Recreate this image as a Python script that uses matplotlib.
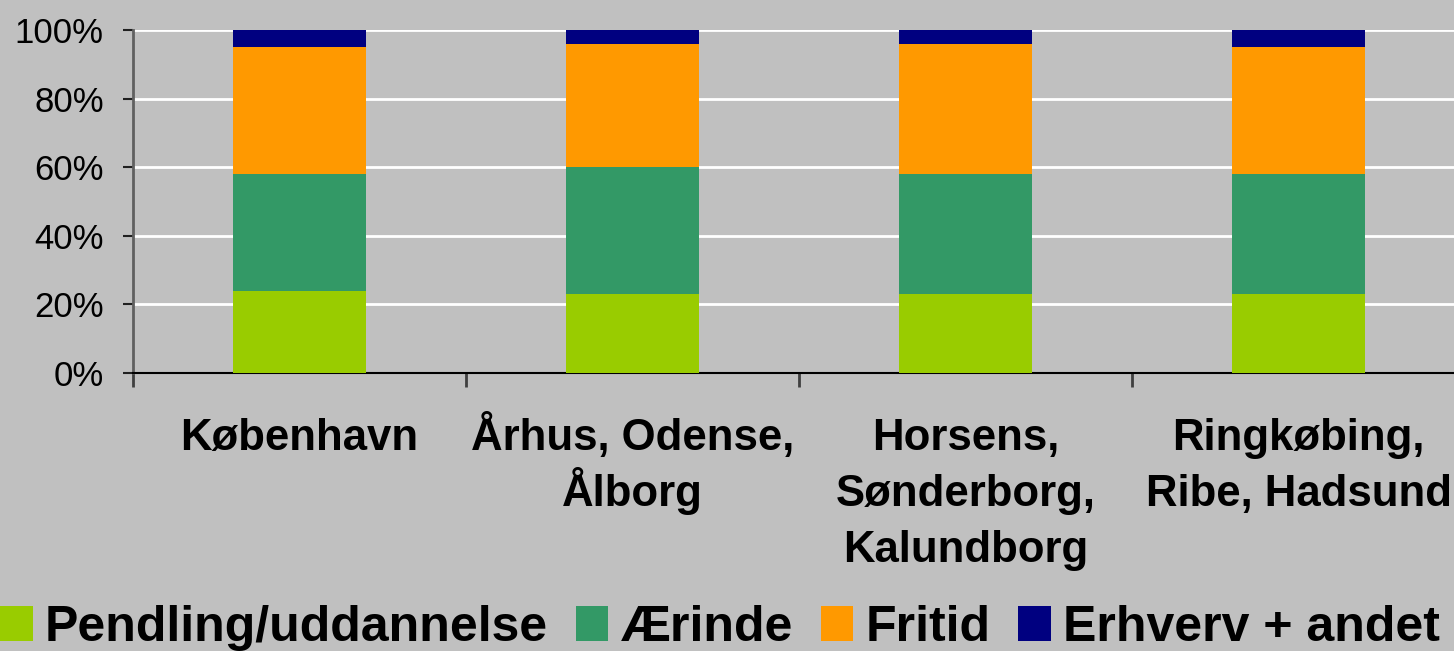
import matplotlib.pyplot as plt
import numpy as np

# data (percent of trips)
categories = ["København", "Århus, Odense,\nÅlborg", "Horsens,\nSønderborg,\nKalundborg",
              "Ringkøbing,\nRibe, Hadsund"]
pendling = [24, 23, 23, 23]
aerinde = [34, 37, 35, 35]
fritid = [37, 36, 38, 37]
erhverv = [5, 4, 4, 5]

series = [
    ("Pendling/uddannelse", pendling, "#99CC00"),
    ("Ærinde", aerinde, "#339966"),
    ("Fritid", fritid, "#FF9900"),
    ("Erhverv + andet", erhverv, "#000080"),
]

plt.rcParams['font.family'] = ['Liberation Sans', 'DejaVu Sans']
bg = "#C0C0C0"

fig = plt.figure(figsize=(14.54, 6.51), dpi=100, facecolor=bg)
ax = fig.add_axes([133 / 1454, 278 / 651, 1332 / 1454, 343 / 651])
ax.set_facecolor(bg)

x = np.arange(len(categories))
bottom = np.zeros(len(categories))
for name, vals, col in series:
    ax.bar(x, vals, width=0.4, bottom=bottom, color=col, label=name, zorder=3)
    bottom += np.array(vals)

ax.set_xlim(-0.5, len(categories) - 0.5)
ax.set_ylim(0, 100)
ax.set_yticks([0, 20, 40, 60, 80, 100])
ax.set_yticklabels([f"{v}%" for v in [0, 20, 40, 60, 80, 100]])
ax.yaxis.grid(True, color="white", linewidth=2, zorder=0)
ax.set_axisbelow(True)

# boundary ticks on x; category names written line by line so the spacing stays even
ax.set_xticks(np.arange(len(categories)) - 0.5)
ax.set_xticklabels([])
ax.tick_params(axis='x', length=10, width=2, color="#404040", direction='out')
ax.tick_params(axis='y', length=7, width=1.5, color="#202020", labelsize=25, pad=14)

first_line = 55.4   # points below the axis to the first baseline
line_step = 40.3
for xi, label in zip(x, categories):
    for i, line in enumerate(label.split("\n")):
        ax.annotate(line, xy=(xi, 0), xycoords=('data', 'axes fraction'),
                    xytext=(0, -first_line - i * line_step), textcoords='offset points',
                    ha='center', va='baseline', fontsize=31.5, fontweight='bold',
                    annotation_clip=False)

for s in ['top', 'right']:
    ax.spines[s].set_visible(False)
ax.spines['left'].set_color("#606060")
ax.spines['left'].set_linewidth(2)
ax.spines['bottom'].set_color("black")
ax.spines['bottom'].set_linewidth(1.5)

fig.legend(loc='lower left', bbox_to_anchor=(0.0, 0.0), ncol=4, frameon=False,
           prop={'size': 36, 'weight': 'bold'}, handlelength=0.65, handleheight=0.72,
           handletextpad=0.25, columnspacing=0.55, borderpad=0, borderaxespad=0)

fig.savefig("out.png", dpi=100, facecolor=bg)
